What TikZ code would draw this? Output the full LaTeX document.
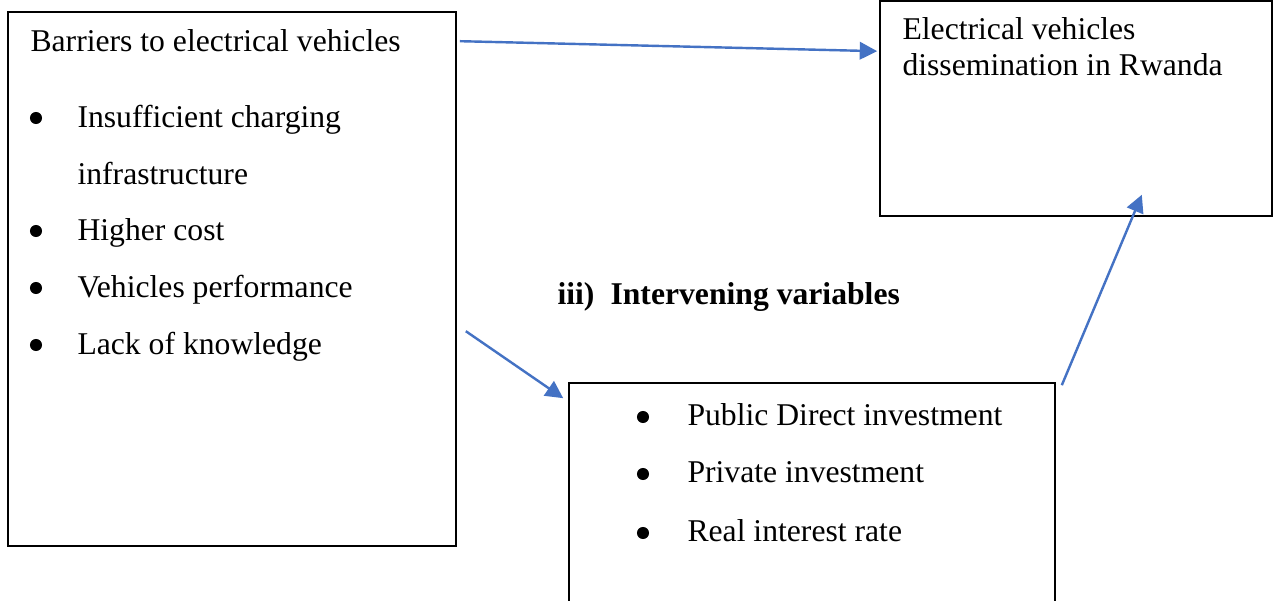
\documentclass[tikz,border=0pt]{standalone}
\usepackage{fontspec}
\setmainfont{Liberation Serif}
\usetikzlibrary{arrows.meta}
\usetikzlibrary{fit}

\definecolor{linkblue}{HTML}{4472C4}

\tikzset{
    box/.style={draw=black, line width=0.6pt, inner sep=0pt},
    txt/.style={anchor=base west, inner sep=0pt, font=\fontsize{11.8pt}{13.6pt}\selectfont},
    dot/.style={circle, fill=black, inner sep=0pt, minimum size=4.5pt},
    link/.style={draw=linkblue, line width=0.9pt, -{Triangle[length=6.5pt,width=6.5pt]}},
}

\begin{document}
\begin{tikzpicture}[x=0.3727pt,y=-0.3727pt]
        \clip (0,0) rectangle (1274,601);
        \fill [white] (0,0) rectangle (1274,601);

        % Boxes
        \node [box, fit={(8,12) (456,546)}] (barriers) {};
        \node [box, fit={(880,1) (1272,216)}] (dissemination) {};
        \node [box, fit={(569,383) (1055,640)}] (intervening) {};

        % Barriers list
        \node [txt] (barhead) at (30,52) {Barriers to electrical vehicles};
        \node [dot] (bd1) at (36,118) {};
        \node [txt] (bt1) at (77,128) {Insufficient charging};
        \node [txt] (bt1b) at (77,185) {infrastructure};
        \node [dot] (bd2) at (36,231) {};
        \node [txt] (bt2) at (77,241) {Higher cost};
        \node [dot] (bd3) at (36,288) {};
        \node [txt] (bt3) at (77,298) {Vehicles performance};
        \node [dot] (bd4) at (36,345) {};
        \node [txt] (bt4) at (77,355) {Lack of knowledge};

        % Dependent variable
        \node [txt] (dep1) at (902,40) {Electrical vehicles};
        \node [txt] (dep2) at (902,76) {dissemination in Rwanda};

        % Intervening variables
        \node [txt, font=\fontsize{11.8pt}{13.6pt}\selectfont\bfseries] (iii) at (557,305) {iii)};
        \node [txt, font=\fontsize{11.8pt}{13.6pt}\selectfont\bfseries] (ivtitle) at (610,305) {Intervening variables};
        \node [dot] (id1) at (643,417) {};
        \node [txt] (it1) at (687,426) {Public Direct investment};
        \node [dot] (id2) at (643,474) {};
        \node [txt] (it2) at (687,483) {Private investment};
        \node [dot] (id3) at (643,533) {};
        \node [txt] (it3) at (687,542) {Real interest rate};

        % Arrow ends
        \coordinate (a1) at ([shift={(3,30)}]barriers.north east);
        \coordinate (a2) at ([shift={(9,320)}]barriers.north east);
        \coordinate (c1) at ([shift={(-2,51)}]dissemination.north west);
        \coordinate (c2) at ([shift={(-5,16)}]intervening.north west);
        \coordinate (d1) at ([shift={(6,3)}]intervening.north east);
        \coordinate (d2) at ([shift={(-131,-22)}]dissemination.south east);

        % Arrows
        \draw [link] (a1) -- (c1);
        \draw [link] (a2) -- (c2);
        \draw [link] (d1) -- (d2);
\end{tikzpicture}
\end{document}
